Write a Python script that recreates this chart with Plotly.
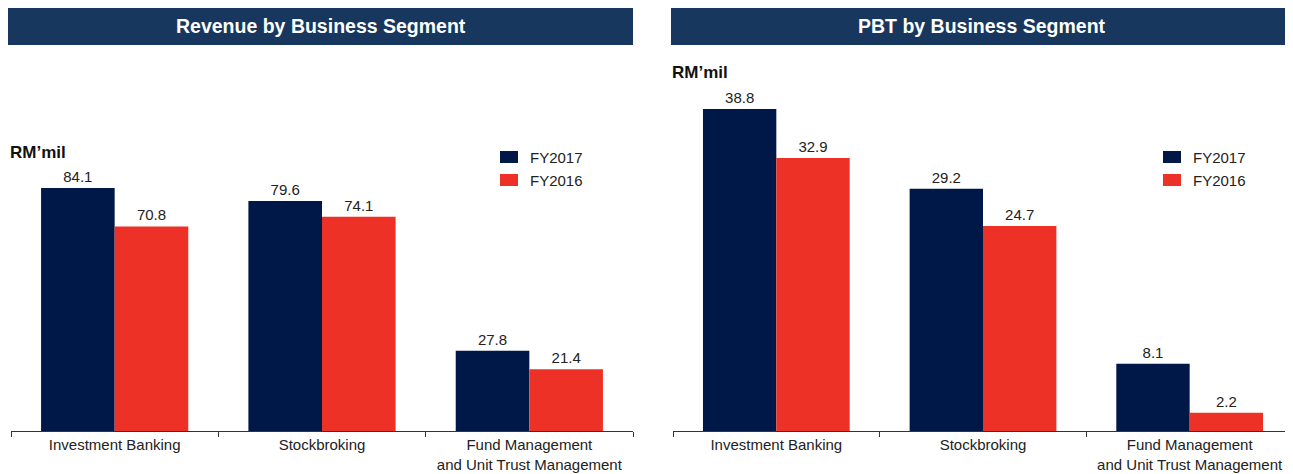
import plotly.graph_objects as go

categories = ["Investment Banking", "Stockbroking", "Fund Management<br>and Unit Trust Management"]
series_names = ["FY2017", "FY2016"]
revenue_fy2017 = [84.1, 79.6, 27.8]
revenue_fy2016 = [70.8, 74.1, 21.4]
pbt_fy2017 = [38.8, 29.2, 8.1]
pbt_fy2016 = [32.9, 24.7, 2.2]
panel_titles = ["Revenue by Business Segment", "PBT by Business Segment"]
unit_label = "RM\u2019mil"

NAVY = "#001848"
RED = "#ee3127"
HEADER = "#17375e"
FONT = "Liberation Sans Narrow, Liberation Sans, Arial, sans-serif"
OFF = 8  # page body margin
W, H = 1293 - OFF, 474 - OFF

def px(x):
    return (x - OFF) / W

def py(y):
    return 1 - (y - OFF) / H

fig = go.Figure()

panels = [
    dict(xa="x", ya="y", vals=[revenue_fy2017, revenue_fy2016]),
    dict(xa="x2", ya="y2", vals=[pbt_fy2017, pbt_fy2016]),
]
colors = [NAVY, RED]
for p in panels:
    for i, name in enumerate(series_names):
        fig.add_trace(go.Bar(
            x=categories, y=p["vals"][i], name=name,
            xaxis=p["xa"], yaxis=p["ya"],
            marker=dict(color=colors[i], line=dict(width=0)),
            text=[f"{v:.1f}" for v in p["vals"][i]],
            textposition="outside", cliponaxis=False,
            textfont=dict(family=FONT, size=15, color="#222222"),
            showlegend=False,
        ))

base_y = py(431)
top_y = py(60)
axis_common = dict(
    type="category", showgrid=False, zeroline=False,
    showline=True, linecolor="#333333", linewidth=1,
    ticks="outside", ticklen=5, tickcolor="#333333", tickson="boundaries",
    tickfont=dict(family=FONT, size=15, color="#222222"),
    fixedrange=True,
)
fig.update_layout(
    width=W, height=H,
    margin=dict(l=0, r=0, t=0, b=0),
    paper_bgcolor="white", plot_bgcolor="white",
    barmode="group", bargap=0.29, bargroupgap=0,
    xaxis=dict(domain=[px(11), px(633)], anchor="y", **axis_common),
    xaxis2=dict(domain=[px(673), min(1.0, px(1293))], anchor="y2", **axis_common),
    yaxis=dict(domain=[base_y, top_y], range=[0, 371 / 2.89], visible=False, anchor="x"),
    yaxis2=dict(domain=[base_y, top_y], range=[0, 371 / 8.3], visible=False, anchor="x2"),
    font=dict(family=FONT),
)

shapes = []
annotations = []
header_x = [(8, 633), (671, 1292)]
unit_pos = [(10, 152), (672, 72)]
legend_x = [500, 1163]
for k in range(2):
    x0, x1 = header_x[k]
    shapes.append(dict(type="rect", xref="paper", yref="paper",
                       x0=px(x0), x1=px(x1), y0=py(45), y1=py(6),
                       fillcolor=HEADER, line=dict(width=0), layer="below"))
    annotations.append(dict(xref="paper", yref="paper", x=px((x0 + x1) / 2), y=py(26),
                            text=f"<b>{panel_titles[k]}</b>", showarrow=False,
                            xanchor="center", yanchor="middle",
                            font=dict(family=FONT, size=19.5, color="white")))
    ux, uy = unit_pos[k]
    annotations.append(dict(xref="paper", yref="paper", x=px(ux - 2), y=py(uy),
                            text=f"<b>{unit_label}</b>", showarrow=False,
                            xanchor="left", yanchor="middle",
                            font=dict(family=FONT, size=17, color="#111111")))
    for i, name in enumerate(series_names):
        cy = 157 + 23 * i
        lx = legend_x[k]
        shapes.append(dict(type="rect", xref="paper", yref="paper",
                           x0=px(lx), x1=px(lx + 18), y0=py(cy + 6), y1=py(cy - 6),
                           fillcolor=colors[i], line=dict(width=0)))
        annotations.append(dict(xref="paper", yref="paper", x=px(lx + 28), y=py(cy),
                                text=name, showarrow=False, xanchor="left", yanchor="middle",
                                font=dict(family=FONT, size=15, color="#222222")))

fig.update_layout(shapes=shapes, annotations=annotations)
fig.write_html("out.html")
